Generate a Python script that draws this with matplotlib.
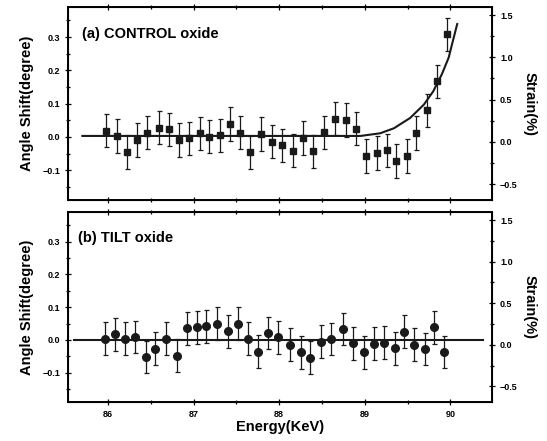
import matplotlib
matplotlib.use("Agg")
import matplotlib.pyplot as plt
from matplotlib.ticker import MultipleLocator

plt.rcParams['font.family'] = ['Liberation Sans', 'DejaVu Sans']
plt.rcParams['font.weight'] = 'bold'

# (a) CONTROL oxide
energy_a = [85.98, 86.11, 86.22, 86.34, 86.46, 86.59, 86.71, 86.83, 86.95, 87.07,
            87.18, 87.31, 87.42, 87.54, 87.66, 87.79, 87.91, 88.03, 88.16, 88.28,
            88.39, 88.52, 88.65, 88.78, 88.90, 89.02, 89.14, 89.26, 89.37, 89.49,
            89.60, 89.73, 89.84, 89.96]
shift_a = [0.019, 0.003, -0.045, -0.009, 0.013, 0.028, 0.023, -0.009, -0.004, 0.011,
           0.001, 0.005, 0.039, 0.013, -0.046, 0.009, -0.014, -0.025, -0.041, -0.003,
           -0.043, 0.014, 0.055, 0.051, 0.025, -0.057, -0.048, -0.040, -0.072, -0.057,
           0.012, 0.080, 0.167, 0.308]
err_a = 0.05

fit_e = [85.70, 88.95, 89.18, 89.34, 89.53, 89.69, 89.80, 89.90, 89.98, 90.03, 90.08]
fit_a = [0.003, 0.003, 0.011, 0.026, 0.057, 0.097, 0.137, 0.188, 0.238, 0.289, 0.339]

# (b) TILT oxide
energy_b = [85.96, 86.08, 86.20, 86.32, 86.44, 86.55, 86.68, 86.80, 86.92, 87.04,
            87.15, 87.27, 87.40, 87.52, 87.63, 87.75, 87.87, 87.99, 88.13, 88.25,
            88.36, 88.49, 88.61, 88.74, 88.86, 88.99, 89.11, 89.23, 89.35, 89.46,
            89.58, 89.70, 89.81, 89.92]
shift_b = [0.004, 0.017, 0.004, 0.009, -0.052, -0.027, 0.004, -0.048, 0.036, 0.039,
           0.041, 0.050, 0.026, 0.049, 0.004, -0.036, 0.021, 0.008, -0.015, -0.038,
           -0.054, -0.005, 0.003, 0.033, -0.010, -0.038, -0.012, -0.008, -0.025, 0.025,
           -0.015, -0.028, 0.039, -0.037]
err_b = 0.05
base_b = [85.60, 90.38]

x_ticks = [86, 87, 88, 89, 90]
labels = ["(a) CONTROL oxide", "(b) TILT oxide"]

fig = plt.figure(figsize=(5.47, 4.41), dpi=100)
ax1 = fig.add_axes([0.124, 0.546, 0.776, 0.438])
ax2 = fig.add_axes([0.124, 0.088, 0.776, 0.431])


def style(ax, show_x):
    ax.set_xlim(85.53, 90.49)
    ax.set_ylim(-0.19, 0.39)
    ax.xaxis.set_major_locator(MultipleLocator(1))
    ax.xaxis.set_minor_locator(MultipleLocator(0.5))
    ax.set_yticks([-0.1, 0.0, 0.1, 0.2, 0.3])
    ax.yaxis.set_minor_locator(MultipleLocator(0.05))
    ax.tick_params(which='both', direction='inout', top=True, right=False,
                   labelsize=6.5, width=0.9)
    ax.tick_params(which='major', length=4)
    ax.tick_params(which='minor', length=2.5)
    if not show_x:
        ax.tick_params(labelbottom=False)
    for s in ax.spines.values():
        s.set_linewidth(1.4)
    ax.set_ylabel("Angle Shift(degree)", fontsize=10.5, fontweight='bold', labelpad=6)
    r = ax.twinx()
    r.set_ylim(-0.69, 1.595)
    r.set_yticks([-0.5, 0.0, 0.5, 1.0, 1.5])
    r.yaxis.set_minor_locator(MultipleLocator(0.25))
    r.tick_params(which='both', direction='inout', labelsize=6.5, width=0.9)
    r.tick_params(which='major', length=4)
    r.tick_params(which='minor', length=2.5)
    r.set_ylabel("Strain(%)", fontsize=10.5, fontweight='bold', rotation=270, labelpad=14)
    return r


style(ax1, False)
style(ax2, True)

ax1.errorbar(energy_a, shift_a, yerr=err_a, fmt='s', color='#1a1a1a', ms=5,
             elinewidth=0.9, capsize=1.8, capthick=0.9)
ax1.plot(fit_e, fit_a, color='#1a1a1a', lw=1.5)
ax1.text(85.7, 0.31, labels[0], fontsize=10.5, fontweight='bold', va='center')

ax2.errorbar(energy_b, shift_b, yerr=err_b, fmt='o', color='#1a1a1a', ms=5.5,
             elinewidth=0.9, capsize=1.8, capthick=0.9)
ax2.plot(base_b, [0, 0], color='#1a1a1a', lw=1.5)
ax2.text(85.65, 0.31, labels[1], fontsize=10.5, fontweight='bold', va='center')
ax2.set_xticks(x_ticks)
ax2.set_xlabel("Energy(KeV)", fontsize=10.5, fontweight='bold', labelpad=1)

fig.savefig("out.png", dpi=100)
